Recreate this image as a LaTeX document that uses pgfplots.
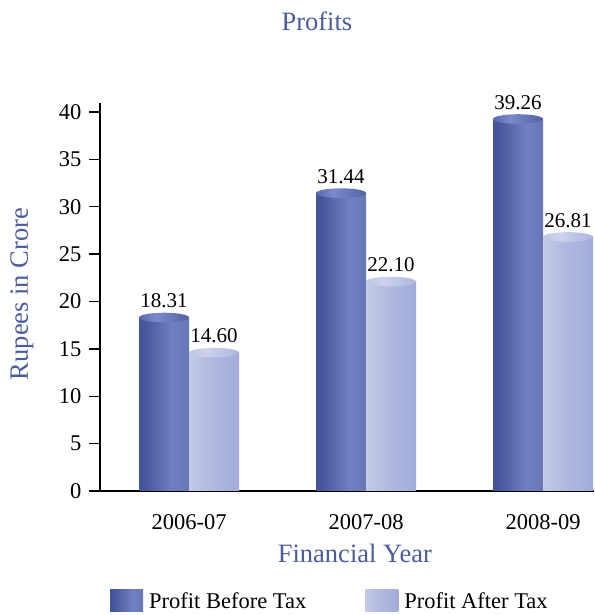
\documentclass[border=0pt]{standalone}
\usepackage{fontspec}
\setmainfont{Liberation Serif}
\usepackage{pgfplots}
\pgfplotsset{compat=1.18}
\definecolor{titleblue}{HTML}{4B5B9F}
\definecolor{bA1}{HTML}{45559B}
\definecolor{bA2}{HTML}{7081C1}
\definecolor{bA3}{HTML}{6676B7}
\definecolor{bB1}{HTML}{C4CAE6}
\definecolor{bB2}{HTML}{B2BAE1}
\definecolor{bB3}{HTML}{A2ACDA}
\definecolor{cA1}{HTML}{5A6AAE}
\definecolor{cA2}{HTML}{7A8ACA}
\definecolor{cA3}{HTML}{5262A6}
\definecolor{cB1}{HTML}{BFC5E6}
\definecolor{cB2}{HTML}{CDD2EE}
\definecolor{cB3}{HTML}{AEB6DE}
\pgfdeclarehorizontalshading{cylBefore}{100bp}{color(0bp)=(bA1); color(25bp)=(bA1); color(30bp)=(bA1); color(58bp)=(bA2); color(75bp)=(bA3); color(100bp)=(bA3)}
\pgfdeclarehorizontalshading{cylAfter}{100bp}{color(0bp)=(bB1); color(25bp)=(bB1); color(45bp)=(bB2); color(75bp)=(bB3); color(100bp)=(bB3)}
\pgfdeclarehorizontalshading{capBefore}{100bp}{color(0bp)=(cA1); color(25bp)=(cA1); color(42bp)=(cA2); color(75bp)=(cA3); color(100bp)=(cA3)}
\pgfdeclarehorizontalshading{capAfter}{100bp}{color(0bp)=(cB1); color(25bp)=(cB1); color(42bp)=(cB2); color(75bp)=(cB3); color(100bp)=(cB3)}
\pgfdeclareplotmark{capB}{\path[draw=none, shade, shading=capBefore] (-25pt,0pt) ellipse (25pt and 4.8pt);}
\pgfdeclareplotmark{capA}{\path[draw=none, shade, shading=capAfter] (25pt,0pt) ellipse (25pt and 4.8pt);}
\pgfplotsset{
  barB/.style={ybar, bar width=50pt, bar shift=-25pt, draw=none, shade, shading=cylBefore},
  barA/.style={ybar, bar width=50pt, bar shift=25pt, draw=none, shade, shading=cylAfter},
}
\begin{document}
\begin{tikzpicture}
\useasboundingbox (0,0) rectangle (594pt,615pt);
\begin{axis}[
  at={(100pt,124pt)}, anchor=south west,
  scale only axis, width=494pt, height=388pt,
  xmin=-0.503, xmax=2.288, ymin=0, ymax=40.95,
  axis x line=bottom, axis y line=left,
  axis line style={-, line width=1.4pt, black},
  xtick={0,1,2}, xticklabels={2006-07,2007-08,2008-09},
  xtick style={draw=none},
  ytick={0,5,...,40}, ytick style={line width=1.4pt, black},
  major tick length=11pt, tick align=outside,
  tick label style={font=\fontsize{22.5}{22.5}\selectfont},
  /pgf/number format/assume math mode=true,
  xticklabel style={yshift=-9pt},
  yticklabel style={xshift=-4pt},
  clip=false,
  title={Profits},
  title style={at={(0.439,1.194)}, anchor=center, font=\fontsize{26.5}{26.5}\selectfont, text=titleblue},
  xlabel={Financial Year},
  xlabel style={at={(0.516,-0.160)}, anchor=center, font=\fontsize{26.5}{26.5}\selectfont, text=titleblue},
  ylabel={Rupees in Crore},
  ylabel style={at={(-0.158,0.508)}, anchor=center, font=\fontsize{26.5}{26.5}\selectfont, text=titleblue},
  legend columns=2,
  legend cell align=left,
  legend style={at={(0.0202,-0.2835)}, anchor=west, draw=none, fill=none, inner sep=0pt,
    font=\fontsize{22.5}{22.5}\selectfont,
    /tikz/every odd column/.append style={column sep=4pt},
    /tikz/every even column/.append style={column sep=57pt}},
]
\addplot[barB, legend image code/.code={\path[shade, shading=cylBefore] (0pt,-11pt) rectangle (33pt,11pt);}]
  coordinates {(0,18.31)};
\addlegendentry{Profit Before Tax}
\addplot[barA, legend image code/.code={\path[shade, shading=cylAfter] (0pt,-11pt) rectangle (33pt,11pt);}]
  coordinates {(0,14.60)};
\addlegendentry{Profit After Tax}
\addplot[barB, forget plot] coordinates {(1,31.44)};
\addplot[barB, forget plot] coordinates {(2,39.26)};
\addplot[barA, forget plot] coordinates {(1,22.10)};
\addplot[barA, forget plot] coordinates {(2,26.81)};
\addplot[only marks, mark=capB, forget plot, point meta=explicit symbolic, nodes near coords,
  nodes near coords style={xshift=-25pt, anchor=south, yshift=6pt, font=\fontsize{21}{21}\selectfont, text=black}]
  coordinates {(0,18.31) [18.31] (1,31.44) [31.44] (2,39.26) [39.26]};
\addplot[only marks, mark=capA, forget plot, point meta=explicit symbolic, nodes near coords,
  nodes near coords style={xshift=25pt, anchor=south, yshift=6pt, font=\fontsize{21}{21}\selectfont, text=black}]
  coordinates {(0,14.60) [14.60] (1,22.10) [22.10] (2,26.81) [26.81]};
\end{axis}
\end{tikzpicture}
\end{document}
